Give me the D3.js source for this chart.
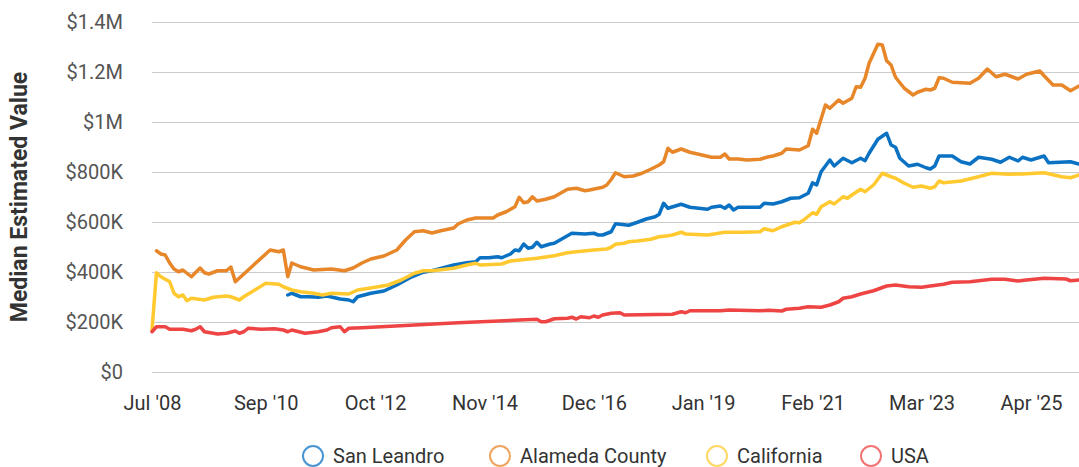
<!DOCTYPE html>
<html>
<head>
<meta charset="utf-8">
<script src="https://cdn.jsdelivr.net/npm/d3@7"></script>
<style>
  body { margin: 0; background: #fff; }
  text { font-family: Roboto, "Noto Sans", sans-serif; }
</style>
</head>
<body>
<div id="chart"></div>
<script>
// values in thousands of dollars, [month, value]
const sanLeandro = [
  ["2011-02",308],["2011-03",315],["2011-05",301],["2011-07",301],["2011-09",299],["2011-11",304],
  ["2012-02",292],["2012-04",288],["2012-05",281],["2012-06",301],["2012-09",315],["2012-12",324],
  ["2013-03",348],["2013-06",377],["2013-09",399],["2013-11",405],["2014-02",419],["2014-04",428],
  ["2014-07",437],["2014-09",441],["2014-10",457],["2014-12",457],["2015-02",461],["2015-03",457],
  ["2015-05",472],["2015-06",488],["2015-07",485],["2015-08",512],["2015-09",495],["2015-10",499],
  ["2015-11",519],["2015-12",501],["2016-02",512],["2016-03",515],["2016-05",535],["2016-07",555],
  ["2016-10",552],["2016-12",555],["2017-01",548],["2017-02",548],["2017-04",561],["2017-05",593],
  ["2017-08",587],["2017-10",599],["2017-12",612],["2018-02",621],["2018-03",631],["2018-04",675],
  ["2018-05",655],["2018-08",671],["2018-10",659],["2019-02",651],["2019-03",659],["2019-05",664],
  ["2019-06",655],["2019-07",668],["2019-08",648],["2019-09",659],["2020-02",659],["2020-03",675],
  ["2020-05",672],["2020-07",681],["2020-09",695],["2020-11",697],["2021-01",715],["2021-02",757],
  ["2021-03",748],["2021-04",801],["2021-06",848],["2021-07",824],["2021-09",855],["2021-11",837],
  ["2022-01",855],["2022-02",845],["2022-03",875],["2022-05",931],["2022-07",955],["2022-08",908],
  ["2022-09",899],["2022-10",855],["2022-12",824],["2023-02",831],["2023-04",817],["2023-05",812],
  ["2023-06",824],["2023-07",864],["2023-10",864],["2023-12",841],["2024-02",832],["2024-04",859],
  ["2024-07",851],["2024-09",839],["2024-11",859],["2025-01",844],["2025-02",859],["2025-04",848],
  ["2025-07",864],["2025-08",837],["2026-01",841],["2026-03",832]
];
const alamedaCounty = [
  ["2008-08",485],["2008-09",472],["2008-10",468],["2008-11",436],["2008-12",412],["2009-01",401],
  ["2009-02",408],["2009-04",381],["2009-06",416],["2009-07",397],["2009-08",392],["2009-10",405],
  ["2009-12",405],["2010-01",420],["2010-02",361],["2010-10",488],["2010-12",481],["2011-01",488],
  ["2011-02",381],["2011-03",436],["2011-05",421],["2011-08",408],["2011-12",412],["2012-03",405],
  ["2012-05",416],["2012-07",436],["2012-09",452],["2012-12",464],["2013-03",488],["2013-05",528],
  ["2013-07",561],["2013-09",565],["2013-11",556],["2014-01",565],["2014-04",576],["2014-05",592],
  ["2014-07",608],["2014-09",616],["2015-01",616],["2015-02",628],["2015-04",641],["2015-06",661],
  ["2015-07",699],["2015-08",677],["2015-09",681],["2015-10",701],["2015-11",684],["2016-01",691],
  ["2016-03",701],["2016-05",721],["2016-06",731],["2016-08",735],["2016-10",725],["2016-11",728],
  ["2017-02",739],["2017-03",748],["2017-04",770],["2017-05",797],["2017-07",781],["2017-09",784],
  ["2017-11",795],["2018-01",811],["2018-03",828],["2018-04",841],["2018-05",895],["2018-06",879],
  ["2018-08",892],["2018-10",879],["2018-12",871],["2019-03",859],["2019-05",859],["2019-06",872],
  ["2019-07",852],["2019-09",852],["2019-11",848],["2020-02",851],["2020-04",861],["2020-05",864],
  ["2020-07",875],["2020-08",892],["2020-11",888],["2021-01",905],["2021-02",971],["2021-03",955],
  ["2021-05",1068],["2021-06",1055],["2021-08",1088],["2021-09",1075],["2021-11",1095],["2021-12",1141],
  ["2022-01",1139],["2022-02",1175],["2022-03",1235],["2022-05",1311],["2022-06",1308],["2022-07",1245],
  ["2022-08",1228],["2022-09",1179],["2022-11",1135],["2023-01",1108],["2023-02",1119],["2023-04",1131],
  ["2023-05",1128],["2023-06",1135],["2023-07",1177],["2023-08",1175],["2023-10",1159],["2024-02",1155],
  ["2024-04",1175],["2024-06",1212],["2024-08",1181],["2024-10",1191],["2024-11",1185],["2025-01",1172],
  ["2025-03",1191],["2025-06",1204],["2025-07",1185],["2025-09",1148],["2025-11",1148],["2026-01",1125],
  ["2026-02",1135],["2026-03",1144]
];
const california = [
  ["2008-07",168],["2008-08",397],["2008-09",381],["2008-11",361],["2008-12",315],["2009-01",301],
  ["2009-02",308],["2009-03",285],["2009-04",295],["2009-07",288],["2009-09",299],["2009-12",304],
  ["2010-01",301],["2010-03",288],["2010-04",301],["2010-09",355],["2010-12",351],["2011-01",341],
  ["2011-03",328],["2011-05",321],["2011-08",315],["2011-10",308],["2011-12",315],["2012-04",312],
  ["2012-06",328],["2012-10",339],["2013-01",348],["2013-04",368],["2013-07",395],["2013-09",405],
  ["2013-11",405],["2014-02",411],["2014-04",415],["2014-07",428],["2014-09",435],["2014-10",428],
  ["2015-03",432],["2015-05",444],["2015-11",455],["2016-03",465],["2016-06",477],["2016-08",481],
  ["2016-12",488],["2017-03",492],["2017-04",499],["2017-05",511],["2017-07",515],["2017-08",521],
  ["2017-10",524],["2018-01",531],["2018-03",541],["2018-05",545],["2018-06",548],["2018-08",559],
  ["2018-09",552],["2019-02",548],["2019-06",559],["2019-10",559],["2020-02",561],["2020-03",573],
  ["2020-05",565],["2020-07",581],["2020-10",599],["2020-11",597],["2020-12",608],["2021-02",637],
  ["2021-03",631],["2021-04",661],["2021-06",681],["2021-07",672],["2021-09",701],["2021-10",695],
  ["2021-11",708],["2022-01",731],["2022-02",721],["2022-04",748],["2022-06",795],["2022-08",781],
  ["2022-09",775],["2022-11",755],["2023-01",739],["2023-03",744],["2023-05",735],["2023-06",741],
  ["2023-07",764],["2023-08",757],["2023-12",764],["2024-04",781],["2024-07",795],["2024-11",791],
  ["2025-02",792],["2025-07",797],["2025-11",781],["2026-01",777],["2026-03",788]
];
const usa = [
  ["2008-07",161],["2008-08",181],["2008-10",181],["2008-11",171],["2009-02",171],["2009-04",165],
  ["2009-05",171],["2009-06",181],["2009-07",161],["2009-10",152],["2009-12",155],["2010-02",164],
  ["2010-03",155],["2010-04",161],["2010-05",175],["2010-08",171],["2010-11",173],["2011-01",168],
  ["2011-02",161],["2011-03",168],["2011-06",155],["2011-09",161],["2011-11",168],["2011-12",177],
  ["2012-02",181],["2012-03",161],["2012-04",175],["2012-07",177],["2014-05",197],["2015-11",211],
  ["2015-12",201],["2016-01",201],["2016-03",213],["2016-06",215],["2016-07",219],["2016-08",212],
  ["2016-09",221],["2016-11",217],["2016-12",224],["2017-01",219],["2017-02",228],["2017-04",235],
  ["2017-06",237],["2017-07",228],["2018-06",231],["2018-08",241],["2018-09",237],["2018-10",245],
  ["2019-05",245],["2019-07",248],["2020-02",245],["2020-04",247],["2020-07",244],["2020-08",251],
  ["2020-11",255],["2021-01",261],["2021-04",259],["2021-06",268],["2021-08",281],["2021-09",295],
  ["2021-11",301],["2022-01",312],["2022-04",325],["2022-07",344],["2022-09",348],["2022-12",341],
  ["2023-03",339],["2023-05",344],["2023-08",351],["2023-10",359],["2024-02",361],["2024-07",371],
  ["2024-10",371],["2025-01",364],["2025-03",368],["2025-07",375],["2025-12",372],["2026-01",365],
  ["2026-03",368]
];

const seriesNames = ["San Leandro", "Alameda County", "California", "USA"];
const seriesData = [sanLeandro, alamedaCounty, california, usa];
const colors = ["#0b72c3", "#e8862a", "#ffc92f", "#ee4444"];
const xTickLabels = ["2008-07", "2010-09", "2012-10", "2014-11", "2016-12", "2019-01", "2021-02", "2023-03", "2025-04"];
const yTicks = [0, 200000, 400000, 600000, 800000, 1000000, 1200000, 1400000];

let width = 1079,
    height = 467;

let parse = d3.timeParse("%Y-%m");

let svg = d3.select("#chart")
    .append("svg")
    .attr("width", width)
    .attr("height", height);

let x = d3.scaleTime()
    .domain([parse("2008-07"), parse("2026-03")])
    .range([152, 1079]);

let y = d3.scaleLinear()
    .domain([0, 1400000])
    .range([372, 22]);

function fmtMoney(v) {
    if (v === 0) return "$0";
    if (v >= 1000000) return "$" + d3.format("~g")(v / 1000000) + "M";
    return "$" + (v / 1000) + "K";
}

// grid + y labels
let yAxis = svg.append("g")
    .attr("transform", "translate(152,0)")
    .call(d3.axisLeft(y).tickValues(yTicks).tickSize(-927).tickPadding(29).tickFormat(fmtMoney));
yAxis.select(".domain").remove();
yAxis.selectAll(".tick line").attr("stroke", "#cccccc").attr("stroke-width", 1);
yAxis.selectAll(".tick text")
    .attr("fill", "#555")
    .style("font-size", "20px");

// x labels
let xAxis = svg.append("g")
    .attr("transform", "translate(0,372)")
    .call(d3.axisBottom(x).tickValues(xTickLabels.map(parse)).tickSize(0).tickPadding(24).tickFormat(d3.timeFormat("%b '%y")));
xAxis.select(".domain").remove();
xAxis.selectAll(".tick text")
    .attr("fill", "#333")
    .style("font-size", "20px");

// y title, centred on the plot
svg.append("text")
    .attr("transform", "translate(27," + (y.range()[0] + y.range()[1]) / 2 + ") rotate(-90)")
    .attr("text-anchor", "middle")
    .attr("fill", "#333")
    .style("font-size", "23px")
    .style("font-weight", "bold")
    .text("Median Estimated Value");

let line = d3.line()
    .x(d => x(parse(d[0])))
    .y(d => y(d[1] * 1000));

svg.append("g")
    .selectAll("path")
    .data(seriesData)
    .enter().append("path")
    .attr("d", line)
    .attr("fill", "none")
    .attr("stroke", (d, i) => colors[i])
    .attr("stroke-width", 3.5)
    .attr("stroke-linejoin", "round")
    .attr("stroke-linecap", "round");

// legend
let legendX = [313, 500, 717, 871];
let legend = svg.append("g")
    .selectAll("g")
    .data(seriesNames)
    .enter().append("g")
    .attr("transform", (d, i) => "translate(" + legendX[i] + ",456)");
legend.append("circle")
    .attr("r", 10)
    .attr("fill", "none")
    .attr("stroke", (d, i) => colors[i])
    .attr("stroke-opacity", 0.75)
    .attr("stroke-width", 2);
legend.append("text")
    .attr("x", 20)
    .attr("dy", "0.35em")
    .attr("fill", "#333")
    .style("font-size", "20px")
    .text(d => d);
</script>
</body>
</html>
